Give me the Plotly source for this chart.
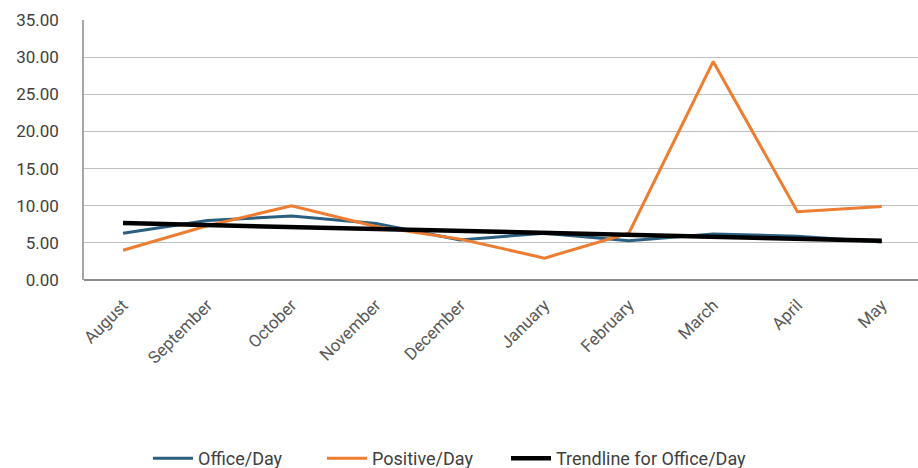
import numpy as np
import plotly.graph_objects as go

# Monthly figures
months = ["August", "September", "October", "November", "December",
          "January", "February", "March", "April", "May"]
office_per_day = [6.3, 8.0, 8.6, 7.6, 5.4, 6.3, 5.3, 6.2, 5.9, 5.1]
positive_per_day = [4.0, 7.3, 10.0, 7.2, 5.5, 2.95, 6.3, 29.4, 9.2, 9.9]
y_ticks = [0, 5, 10, 15, 20, 25, 30, 35]

# Linear trend of Office/Day
idx = np.arange(len(months))
slope, intercept = np.polyfit(idx, office_per_day, 1)
trend = slope * idx + intercept

font_family = "Liberation Sans Narrow, Roboto, Arial, sans-serif"

fig = go.Figure()
fig.add_trace(go.Scatter(x=idx, y=office_per_day, mode="lines", name="Office/Day",
                         line=dict(color="#2B5F80", width=3), legend="legend"))
fig.add_trace(go.Scatter(x=idx, y=positive_per_day, mode="lines", name="Positive/Day",
                         line=dict(color="#ED7D31", width=3), legend="legend2"))
fig.add_trace(go.Scatter(x=idx, y=trend, mode="lines", name="Trendline for Office/Day",
                         line=dict(color="#000000", width=4.5), legend="legend3"))


def legend_box(left_px):
    return dict(orientation="h", xref="container", yref="container",
                x=left_px / 918, xanchor="left", y=0.02, yanchor="middle",
                font=dict(size=18, color="#404040"), itemwidth=40,
                bgcolor="rgba(0,0,0,0)")


fig.update_layout(
    width=918, height=468,
    margin=dict(l=84, r=0, t=20, b=188),
    paper_bgcolor="white", plot_bgcolor="white",
    font=dict(family=font_family, color="#404040", size=16),
    showlegend=True,
    legend=legend_box(148),
    legend2=legend_box(322),
    legend3=legend_box(506),
    xaxis=dict(
        tickmode="array", tickvals=list(idx), ticktext=months,
        range=[-0.463, 9.43], tickangle=-45,
        showgrid=False, zeroline=False,
        showline=False, ticks="", ticklabelstandoff=11,
        tickfont=dict(size=17, color="#595959"),
    ),
    yaxis=dict(
        range=[0, 35], tickvals=y_ticks, tickformat=".2f",
        showgrid=True, gridcolor="#BFBFBF", gridwidth=1,
        zeroline=True, zerolinecolor="#8C8C8C", zerolinewidth=1.5,
        showline=True, linecolor="#A6A6A6", linewidth=1.5,
        ticks="", ticklabelstandoff=20,
        tickfont=dict(size=17, color="#404040"),
    ),
)

fig.write_html("out.html")
